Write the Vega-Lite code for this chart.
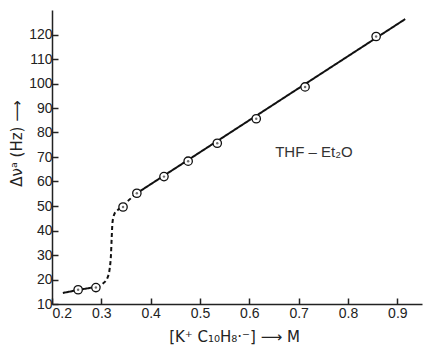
{
  "$schema": "https://vega.github.io/schema/vega-lite/v6.json",
  "width": 370,
  "height": 294,
  "autosize": "none",
  "padding": {"left": 52, "top": 10, "right": 12, "bottom": 42},
  "background": "white",
  "config": {
    "view": {"stroke": null},
    "font": "Liberation Sans",
    "axis": {
      "grid": false,
      "domainColor": "#222",
      "domainWidth": 1.5,
      "tickColor": "#222",
      "tickWidth": 1.5,
      "labelColor": "#222",
      "labelFont": "Liberation Sans",
      "labelFontSize": 14,
      "labelOverlap": false,
      "titleFont": "DejaVu Sans",
      "titleFontWeight": "normal",
      "titleColor": "#222",
      "titleFontSize": 15
    }
  },
  "datasets": {
    "curve": [
      {"x": 0.222, "y": 14.5, "seg": "a", "style": "solid"},
      {"x": 0.25, "y": 15.6, "seg": "a", "style": "solid"},
      {"x": 0.29, "y": 17.0, "seg": "a", "style": "solid"},
      {"x": 0.29, "y": 17.0, "seg": "b", "style": "dashed"},
      {"x": 0.303, "y": 18.3, "seg": "b", "style": "dashed"},
      {"x": 0.312, "y": 20.5, "seg": "b", "style": "dashed"},
      {"x": 0.317, "y": 24.5, "seg": "b", "style": "dashed"},
      {"x": 0.3195, "y": 30, "seg": "b", "style": "dashed"},
      {"x": 0.321, "y": 37, "seg": "b", "style": "dashed"},
      {"x": 0.3225, "y": 43, "seg": "b", "style": "dashed"},
      {"x": 0.326, "y": 46.5, "seg": "b", "style": "dashed"},
      {"x": 0.333, "y": 48.3, "seg": "b", "style": "dashed"},
      {"x": 0.345, "y": 50.3, "seg": "b", "style": "dashed"},
      {"x": 0.358, "y": 52.8, "seg": "b", "style": "dashed"},
      {"x": 0.368, "y": 54.7, "seg": "b", "style": "dashed"},
      {"x": 0.368, "y": 54.7, "seg": "c", "style": "solid"},
      {"x": 0.916, "y": 126.3, "seg": "c", "style": "solid"}
    ],
    "pts": [
      {"x": 0.253, "y": 15.8},
      {"x": 0.289, "y": 16.7},
      {"x": 0.344, "y": 49.6},
      {"x": 0.372, "y": 55.2},
      {"x": 0.427, "y": 62.0},
      {"x": 0.476, "y": 68.3},
      {"x": 0.535, "y": 75.6},
      {"x": 0.614, "y": 85.6},
      {"x": 0.713, "y": 98.6},
      {"x": 0.857, "y": 119.2}
    ],
    "note": [
      {"x": 0.731, "y": 72, "label": "THF – Et₂O"}
    ]
  },
  "encoding": {
    "x": {
      "field": "x", "type": "quantitative",
      "scale": {"domain": [0.2, 0.95], "nice": false, "zero": false},
      "axis": {
        "values": [0.2, 0.3, 0.4, 0.5, 0.6, 0.7, 0.8, 0.9],
        "format": ".1f",
        "labelOverlap": false,
        "tickSize": -6,
        "labelPadding": 8,
        "title": "[K⁺ C₁₀H₈·⁻] ⟶ M",
        "titleX": 182,
        "titleY": 32,
        "titleBaseline": "middle",
        "titleAnchor": "middle",
        "titleAlign": "center"
      }
    },
    "y": {
      "field": "y", "type": "quantitative",
      "scale": {"domain": [10, 130], "nice": false, "zero": false},
      "axis": {
        "values": [10, 20, 30, 40, 50, 60, 70, 80, 90, 100, 110, 120],
        "labelOverlap": false,
        "tickSize": -6,
        "labelPadding": 6,
        "title": "Δνᵃ (Hz) ⟶",
        "titleAngle": -90,
        "titleX": -36,
        "titleY": 133,
        "titleBaseline": "middle",
        "titleAlign": "center"
      }
    }
  },
  "layer": [
    {
      "data": {"name": "curve"},
      "mark": {"type": "line", "color": "#111", "strokeWidth": 2, "interpolate": "monotone"},
      "encoding": {
        "detail": {"field": "seg"},
        "strokeDash": {
          "field": "style", "type": "nominal",
          "scale": {"domain": ["solid", "dashed"], "range": [[1, 0], [4, 3]]},
          "legend": null
        }
      }
    },
    {
      "data": {"name": "pts"},
      "mark": {"type": "point", "shape": "circle", "size": 70, "filled": false, "fill": "white", "fillOpacity": 1, "stroke": "#111", "strokeWidth": 1.3},
      "encoding": {}
    },
    {
      "data": {"name": "pts"},
      "mark": {"type": "point", "shape": "circle", "size": 6, "filled": true, "color": "#333"},
      "encoding": {}
    },
    {
      "data": {"name": "note"},
      "mark": {"type": "text", "font": "Liberation Sans", "fontSize": 15, "color": "#333", "align": "center", "baseline": "middle"},
      "encoding": {
        "text": {"field": "label"}
      }
    }
  ]
}
